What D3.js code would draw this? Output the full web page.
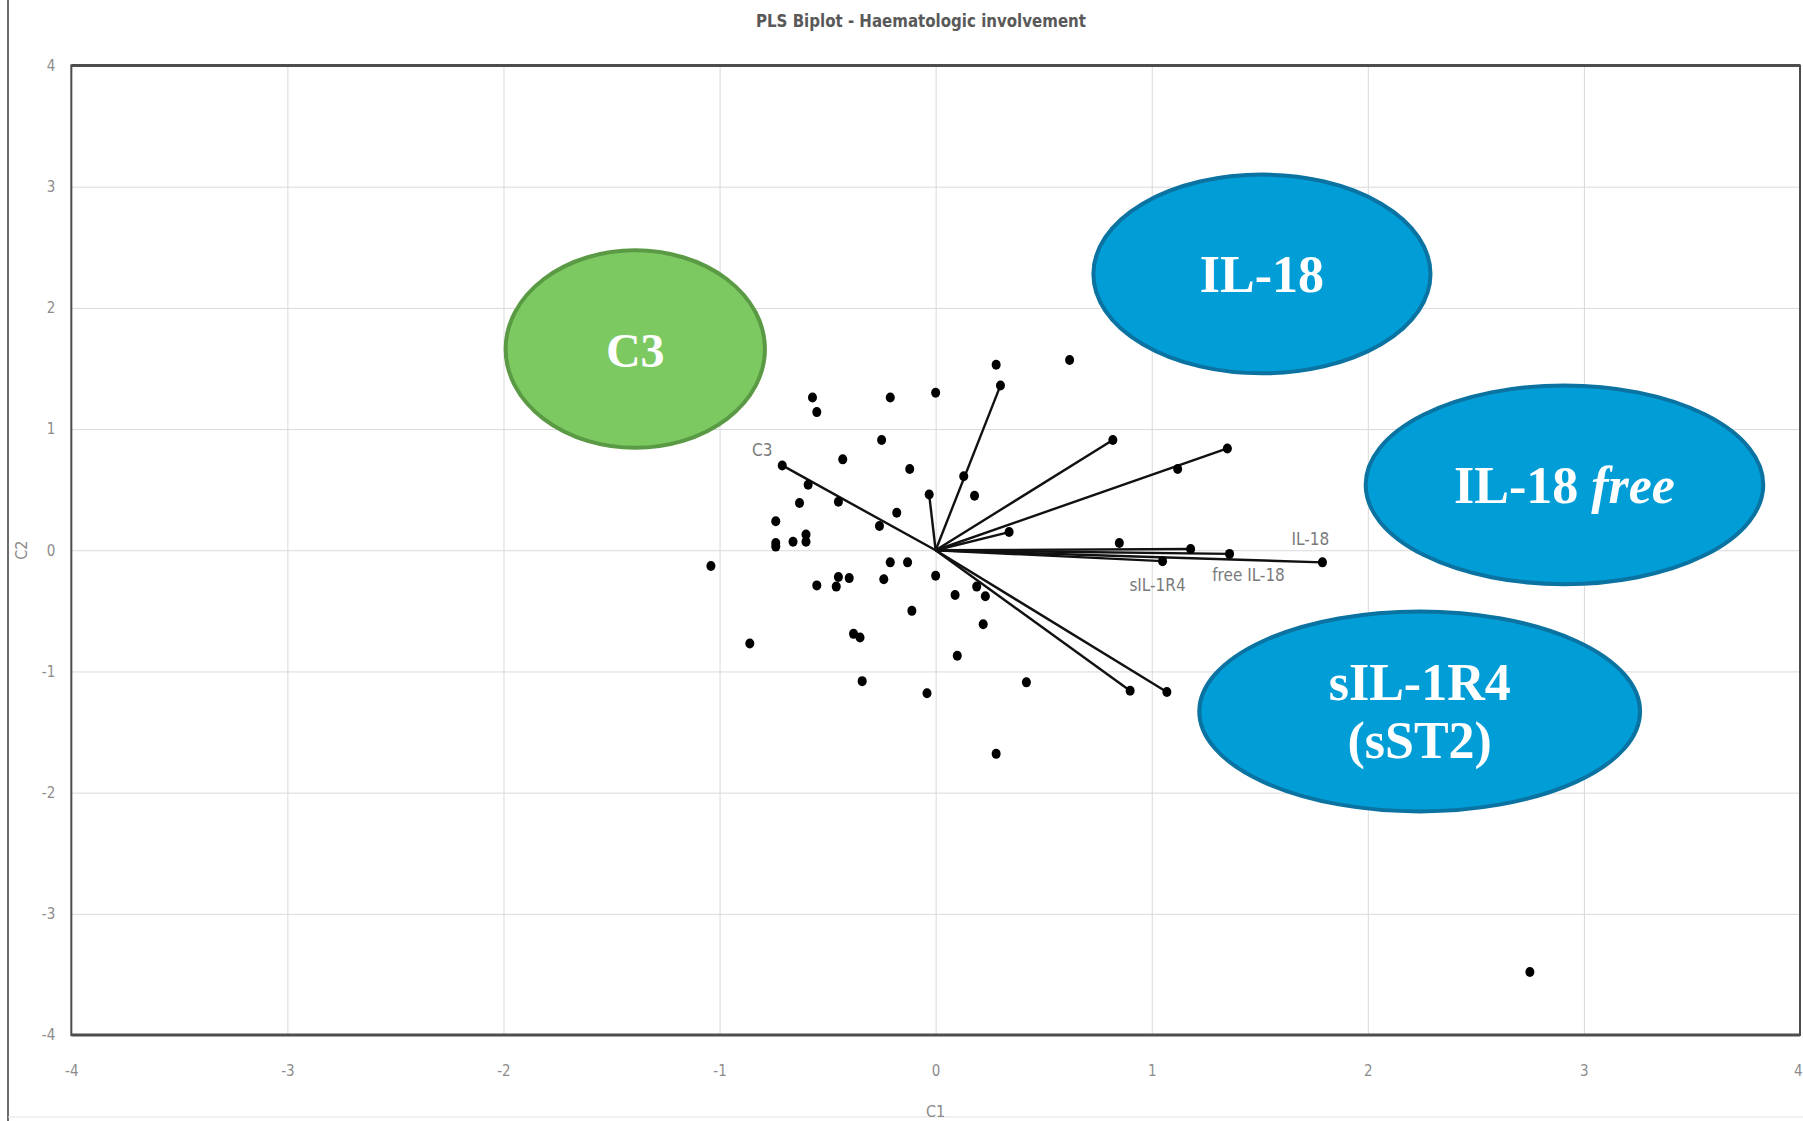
<!DOCTYPE html>
<html>
<head>
<meta charset="utf-8">
<title>PLS Biplot - Haematologic involvement</title>
<script src="https://cdn.jsdelivr.net/npm/d3@7"></script>
<style>
  html, body { margin: 0; padding: 0; background: #fff; }
  svg { display: block; }
</style>
</head>
<body>
<div id="chart"></div>
<script>
/*global d3*/

// observation scores (C1, C2)
var scoreX = [0.28, 0.62, 0.00, -0.21, -0.57, -0.55, -0.25, -0.43, -0.12, 0.13,
  1.12, -0.59, 0.18, -0.63, -0.45, -0.18, -0.74, -0.26, -0.60, -0.60,
  -0.66, -0.74, -0.74, -1.04, 0.85, -0.21, -0.13, 0.00, -0.24, -0.40,
  -0.45, -0.46, -0.55, 0.19, 0.23, 0.09, -0.11, 0.22, -0.38, -0.35,
  -0.86, 0.10, -0.34, -0.04, 0.42, 0.28, 2.75];
var scoreY = [1.53, 1.57, 1.30, 1.26, 1.26, 1.14, 0.91, 0.75, 0.67, 0.61,
  0.67, 0.54, 0.45, 0.39, 0.40, 0.31, 0.24, 0.20, 0.13, 0.07,
  0.07, 0.06, 0.03, -0.13, 0.06, -0.10, -0.10, -0.21, -0.24, -0.23,
  -0.22, -0.30, -0.29, -0.30, -0.38, -0.37, -0.50, -0.61, -0.69, -0.72,
  -0.77, -0.87, -1.08, -1.18, -1.09, -1.68, -3.48];

// variable loadings (vectors from origin)
var loadNames = ['C3', '', '', '', '', '', 'IL-18', 'free IL-18', '', 'sIL-1R4', '', ''];
var loadX = [-0.71, 0.30, -0.03, 0.82, 1.35, 0.34, 1.79, 1.36, 1.18, 1.05, 0.90, 1.07];
var loadY = [0.70, 1.36, 0.46, 0.91, 0.84, 0.15, -0.10, -0.03, 0.01, -0.09, -1.16, -1.17];

var xTicks = ['-4', '-3', '-2', '-1', '0', '1', '2', '3', '4'];
var yTicks = ['-4', '-3', '-2', '-1', '0', '1', '2', '3', '4'];

// highlighted groups drawn over the plot
var bubbleLines = [['C3'], ['IL-18'], ['IL-18 ', 'free'], ['sIL-1R4', '(sST2)']];
var bubbleKind = ['green', 'blue', 'blue', 'blue'];

(function () {
  'use strict';
  var frame = {width: 1803, height: 1121},
    margin = {top: 65.5, right: 3, bottom: 86, left: 71.3},
    width = frame.width - margin.left - margin.right,
    height = frame.height - margin.top - margin.bottom,
    gridColor = '#d9d9d9',
    axisColor = '#4d4d4d',
    tickColor = '#8c8c8c',
    narrow = "'Liberation Sans Narrow', 'Arial Narrow', 'DejaVu Sans Condensed', sans-serif",
    serif = "'Liberation Serif', 'Times New Roman', serif",
    fills = {green: '#7cc962', blue: '#019dd6'},
    strokes = {green: '#5b9a45', blue: '#0b73a1'},
    // label offsets (px) for the labelled vectors
    labelOffset = {
      'C3': [-20, -15],
      'IL-18': [-12, -23],
      'free IL-18': [19, 21],
      'sIL-1R4': [-5, 24]
    },
    // bubble placement in data units: centre x, centre y, radius x, radius y
    bubbleGeom = [
      [-1.39, 1.66, 0.60, 0.815],
      [1.51, 2.28, 0.78, 0.82],
      [2.91, 0.54, 0.92, 0.82],
      [2.24, -1.33, 1.02, 0.825]
    ],
    xScale = d3.scaleLinear().domain([-4, 4]).range([0, width]),
    yScale = d3.scaleLinear().domain([-4, 4]).range([height, 0]),
    svg, plot, xAxis, yAxis;

  svg = d3.select('#chart')
    .append('svg')
    .attr('width', frame.width)
    .attr('height', frame.height);

  svg.append('rect')
    .attr('width', frame.width)
    .attr('height', frame.height)
    .attr('fill', '#fff');

  // outer picture border (left and bottom)
  svg.append('line')
    .attr('x1', 8).attr('x2', 8)
    .attr('y1', 0).attr('y2', frame.height)
    .attr('stroke', '#6b6b6b')
    .attr('stroke-width', 2);
  svg.append('line')
    .attr('x1', 8).attr('x2', frame.width)
    .attr('y1', frame.height - 4).attr('y2', frame.height - 4)
    .attr('stroke', '#e3e3e3')
    .attr('stroke-width', 1);

  svg.append('text')
    .attr('x', 921)
    .attr('y', 20)
    .attr('text-anchor', 'middle')
    .attr('dominant-baseline', 'central')
    .attr('font-family', narrow)
    .attr('font-weight', 'bold')
    .attr('font-size', 18)
    .attr('textLength', 330)
    .attr('lengthAdjust', 'spacingAndGlyphs')
    .attr('fill', '#595959')
    .text('PLS Biplot - Haematologic involvement');

  plot = svg.append('g')
    .attr('transform', 'translate(' + margin.left + ',' + margin.top + ')');

  xAxis = plot.append('g')
    .attr('transform', 'translate(0,' + height + ')')
    .call(d3.axisBottom(xScale).tickValues(xTicks.map(Number))
      .tickFormat(function (d, i) { return xTicks[i]; })
      .tickSize(-height).tickPadding(30));
  yAxis = plot.append('g')
    .call(d3.axisLeft(yScale).tickValues(yTicks.map(Number))
      .tickFormat(function (d, i) { return yTicks[i]; })
      .tickSize(-width).tickPadding(16));

  [xAxis, yAxis].forEach(function (ax) {
    ax.select('.domain').remove();
    ax.selectAll('.tick line')
      .attr('stroke', gridColor)
      .attr('stroke-width', 1);
    ax.selectAll('.tick text')
      .attr('fill', tickColor)
      .attr('font-family', narrow)
      .attr('font-size', 15);
  });
  xAxis.selectAll('.tick text')
    .filter(function (d) { return d === 4; })
    .attr('text-anchor', 'end')
    .attr('dx', 2);

  // plot frame
  plot.append('rect')
    .attr('width', width)
    .attr('height', height)
    .attr('fill', 'none')
    .attr('stroke', axisColor)
    .attr('stroke-width', 2);
  plot.selectAll('.hframe')
    .data([0, height])
    .enter()
    .append('line')
    .attr('class', 'hframe')
    .attr('x1', 0).attr('x2', width)
    .attr('y1', function (d) { return d; })
    .attr('y2', function (d) { return d; })
    .attr('stroke', axisColor)
    .attr('stroke-width', 3);

  // axis titles
  svg.append('text')
    .attr('x', margin.left + xScale(0))
    .attr('y', 1111)
    .attr('text-anchor', 'middle')
    .attr('dominant-baseline', 'central')
    .attr('font-family', narrow)
    .attr('font-size', 16)
    .attr('fill', tickColor)
    .text('C1');
  svg.append('text')
    .attr('transform', 'translate(21,' + (margin.top + yScale(0)) + ') rotate(-90)')
    .attr('text-anchor', 'middle')
    .attr('dominant-baseline', 'central')
    .attr('font-family', narrow)
    .attr('font-size', 16)
    .attr('fill', tickColor)
    .text('C2');

  // loading vectors
  var loads = loadX.map(function (x, i) {
    return {name: loadNames[i], x: x, y: loadY[i]};
  });

  plot.selectAll('.vector')
    .data(loads)
    .enter()
    .append('line')
    .attr('class', 'vector')
    .attr('x1', xScale(0))
    .attr('y1', yScale(0))
    .attr('x2', function (d) { return xScale(d.x); })
    .attr('y2', function (d) { return yScale(d.y); })
    .attr('stroke', '#111')
    .attr('stroke-width', 2.4);

  plot.selectAll('.vector-end')
    .data(loads)
    .enter()
    .append('ellipse')
    .attr('class', 'vector-end')
    .attr('cx', function (d) { return xScale(d.x); })
    .attr('cy', function (d) { return yScale(d.y); })
    .attr('rx', 4.5)
    .attr('ry', 5)
    .attr('fill', '#000');

  plot.selectAll('.vector-label')
    .data(loads.filter(function (d) { return d.name; }))
    .enter()
    .append('text')
    .attr('class', 'vector-label')
    .attr('x', function (d) { return xScale(d.x) + labelOffset[d.name][0]; })
    .attr('y', function (d) { return yScale(d.y) + labelOffset[d.name][1]; })
    .attr('text-anchor', 'middle')
    .attr('dominant-baseline', 'central')
    .attr('font-family', narrow)
    .attr('font-size', 17)
    .attr('fill', '#7a7a7a')
    .text(function (d) { return d.name; });

  // observations
  plot.selectAll('.score')
    .data(scoreX.map(function (x, i) { return [x, scoreY[i]]; }))
    .enter()
    .append('ellipse')
    .attr('class', 'score')
    .attr('cx', function (d) { return xScale(d[0]); })
    .attr('cy', function (d) { return yScale(d[1]); })
    .attr('rx', 4.5)
    .attr('ry', 5)
    .attr('fill', '#000');

  // annotation bubbles
  var bubbles = bubbleLines.map(function (lines, i) {
    return {lines: lines, kind: bubbleKind[i], g: bubbleGeom[i]};
  });

  var bubble = plot.selectAll('.bubble')
    .data(bubbles)
    .enter()
    .append('g')
    .attr('class', 'bubble');

  bubble.append('ellipse')
    .attr('cx', function (d) { return xScale(d.g[0]); })
    .attr('cy', function (d) { return yScale(d.g[1]); })
    .attr('rx', function (d) { return xScale(d.g[2]) - xScale(0); })
    .attr('ry', function (d) { return yScale(0) - yScale(d.g[3]); })
    .attr('fill', function (d) { return fills[d.kind]; })
    .attr('stroke', function (d) { return strokes[d.kind]; })
    .attr('stroke-width', 4);

  bubble.each(function (d) {
    var g = d3.select(this),
      cx = xScale(d.g[0]),
      cy = yScale(d.g[1]),
      size = d.kind === 'green' ? 48 : 52,
      text;

    if (d.lines.length === 2 && d.lines[1] === 'free') {
      text = g.append('text')
        .attr('x', cx)
        .attr('y', cy + 18)
        .attr('text-anchor', 'middle')
        .attr('font-family', serif)
        .attr('font-weight', 'bold')
        .attr('font-size', size)
        .attr('fill', '#fff');
      text.append('tspan').text(d.lines[0]);
      text.append('tspan').attr('font-style', 'italic').text(d.lines[1]);
      return;
    }

    text = g.append('text')
      .attr('text-anchor', 'middle')
      .attr('font-family', serif)
      .attr('font-weight', 'bold')
      .attr('font-size', size)
      .attr('fill', '#fff');
    d.lines.forEach(function (line, i) {
      text.append('tspan')
        .attr('x', cx)
        .attr('y', cy + 18 + (i - (d.lines.length - 1) / 2) * 58)
        .text(line);
    });
  });
}());
</script>
</body>
</html>
